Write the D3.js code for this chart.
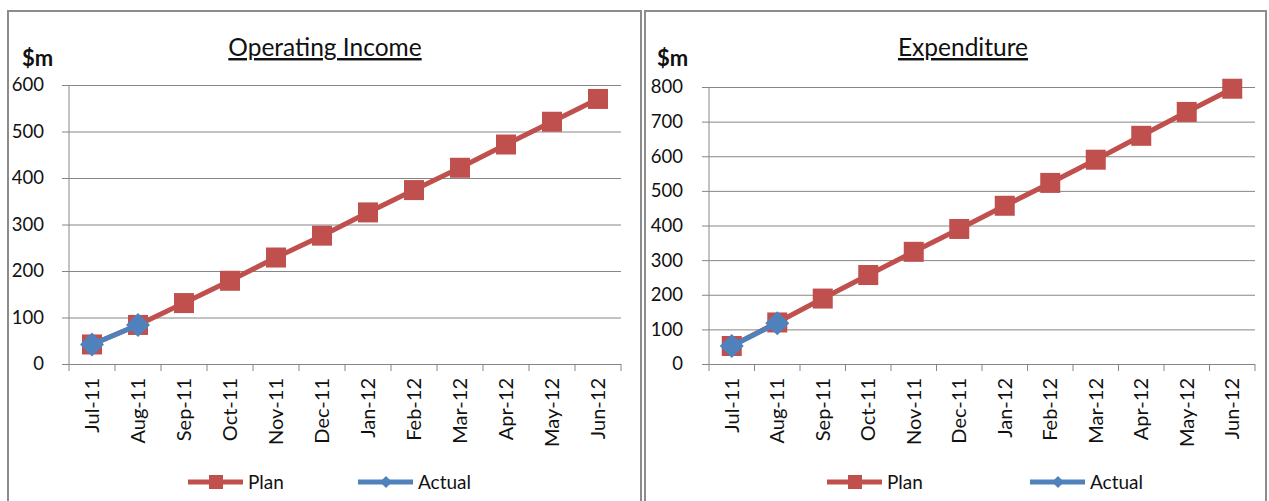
<!DOCTYPE html>
<html>
<head>
<meta charset="utf-8">
<script src="https://cdn.jsdelivr.net/npm/d3@7"></script>
<style>
  body { margin: 0; background: #fff; }
  svg { font-family: Lato, "Open Sans", sans-serif; }
</style>
</head>
<body>
<div id="chart"></div>
<script>
const months = ["Jul-11", "Aug-11", "Sep-11", "Oct-11", "Nov-11", "Dec-11", "Jan-12", "Feb-12", "Mar-12", "Apr-12", "May-12", "Jun-12"];
const incomePlan = [42, 84, 131, 179, 229, 276, 326, 374, 422, 472, 521, 570];
const incomeActual = [42, 84];
const expPlan = [52, 120, 189, 257, 324, 390, 457, 523, 590, 659, 728, 795];
const expActual = [52, 118];
const seriesNames = ["Plan", "Actual"];

const width = 1269, height = 501;
const red = "#C0504D", blue = "#4F81BD", grid = "#868686";

const svg = d3.select("#chart").append("svg").attr("width", width).attr("height", height);

function drawPanel(opt) {
  const g = svg.append("g");

  // panel border
  g.append("rect")
    .attr("x", opt.box[0]).attr("y", opt.box[1])
    .attr("width", opt.box[2]).attr("height", opt.box[3])
    .attr("fill", "none").attr("stroke", "#8c8c8c").attr("stroke-width", 2);

  const x = d3.scaleBand().domain(months).range(opt.xr);
  const y = d3.scaleLinear().domain([0, opt.max]).range(opt.yr);
  const plotW = opt.xr[1] - opt.xr[0];

  // y gridlines + labels
  const ya = g.append("g")
    .attr("transform", `translate(${opt.xr[0] - 7},0)`)
    .call(d3.axisLeft(y).ticks(opt.max / 100).tickSize(-(plotW + 7)).tickPadding(opt.pad));
  ya.select(".domain").remove();
  ya.selectAll("line").attr("stroke", grid);
  ya.selectAll("text").attr("font-size", 18.5).attr("fill", "#111").attr("font-family", "Lato, sans-serif");

  // y axis line
  g.append("line")
    .attr("x1", opt.xr[0]).attr("x2", opt.xr[0])
    .attr("y1", y(0)).attr("y2", y(opt.max))
    .attr("stroke", grid);

  // x axis ticks at band boundaries
  const bounds = months.map((m) => x(m)).concat([opt.xr[1]]);
  g.selectAll(".xt").data(bounds).join("line")
    .attr("x1", (d) => d).attr("x2", (d) => d)
    .attr("y1", y(0)).attr("y2", y(0) + 7)
    .attr("stroke", grid);

  // x labels
  g.selectAll(".xl").data(months).join("text")
    .attr("transform", (d) => `translate(${x(d) + x.bandwidth() / 2},${y(0) + 14}) rotate(-90)`)
    .attr("text-anchor", "end")
    .attr("dy", "0.35em")
    .attr("font-size", 20)
    .attr("fill", "#111")
    .text((d) => d);

  const cx = (i) => x(months[i]) + x.bandwidth() / 2;
  const line = d3.line().x((d, i) => cx(i)).y((d) => y(d));

  // plan
  g.append("path").datum(opt.plan)
    .attr("d", line).attr("fill", "none")
    .attr("stroke", red).attr("stroke-width", 5).attr("stroke-linejoin", "round");
  g.selectAll(".pm").data(opt.plan).join("rect")
    .attr("x", (d, i) => cx(i) - 10).attr("y", (d) => y(d) - 10)
    .attr("width", 20).attr("height", 20)
    .attr("fill", red);

  // actual
  g.append("path").datum(opt.actual)
    .attr("d", line).attr("fill", "none")
    .attr("stroke", blue).attr("stroke-width", 5).attr("stroke-linejoin", "round");
  g.selectAll(".am").data(opt.actual).join("path")
    .attr("transform", (d, i) => `translate(${cx(i)},${y(d)})`)
    .attr("d", "M0,-12L12,0L0,12L-12,0Z")
    .attr("fill", blue);

  // title and unit
  g.append("text")
    .attr("x", opt.titleX).attr("y", 56)
    .attr("text-anchor", "middle")
    .attr("font-size", 24.5)
    .attr("text-decoration", "underline")
    .attr("fill", "#111")
    .text(opt.title);
  g.append("text")
    .attr("x", opt.unitX).attr("y", 66)
    .attr("font-size", 22).attr("font-weight", "bold")
    .attr("fill", "#111")
    .text("$m");

  // legend
  const leg = g.append("g").attr("transform", `translate(0,482)`);
  seriesNames.forEach((name, i) => {
    const lx = opt.legX[i];
    const c = i === 0 ? red : blue;
    leg.append("line").attr("x1", lx).attr("x2", lx + 55)
      .attr("stroke", c).attr("stroke-width", 5);
    if (i === 0) {
      leg.append("rect").attr("x", lx + 21).attr("y", -7).attr("width", 14).attr("height", 14).attr("fill", c);
    } else {
      leg.append("path").attr("transform", `translate(${lx + 28},0)`).attr("d", "M0,-6L6,0L0,6L-6,0Z").attr("fill", c);
    }
    leg.append("text").attr("x", lx + 60).attr("dy", "0.35em")
      .attr("font-size", 19).attr("fill", "#111").text(name);
  });
}

drawPanel({
  box: [8, 11, 633, 500], xr: [69, 621], yr: [364, 85], max: 600, pad: 18,
  plan: incomePlan, actual: incomeActual, title: "Operating Income",
  titleX: 325, unitX: 22, legX: [188, 358]
});
drawPanel({
  box: [645, 11, 621, 500], xr: [709, 1255], yr: [364, 87], max: 800, pad: 19,
  plan: expPlan, actual: expActual, title: "Expenditure",
  titleX: 963, unitX: 657, legX: [827, 1030]
});
</script>
</body>
</html>
